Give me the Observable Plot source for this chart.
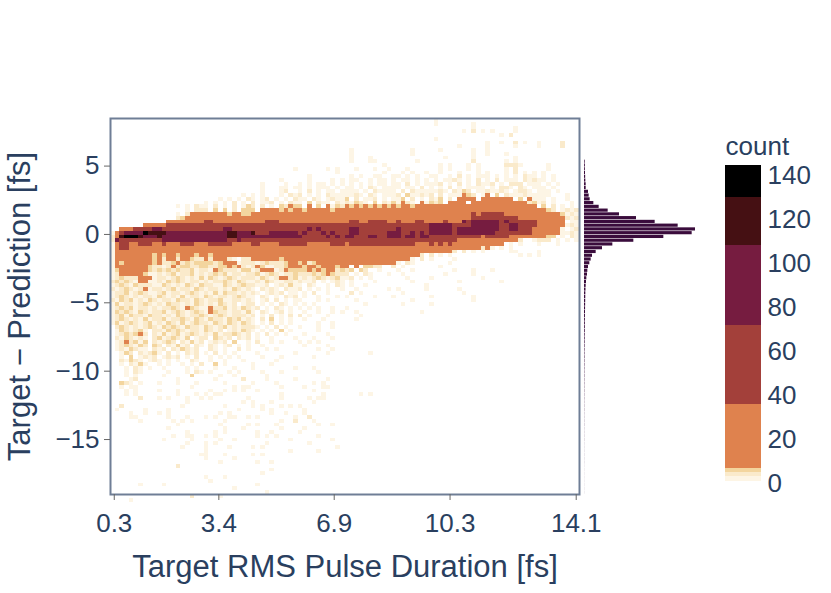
<!DOCTYPE html>
<html><head><meta charset="utf-8">
<script src="https://cdn.jsdelivr.net/npm/d3@7"></script>
<script src="https://cdn.jsdelivr.net/npm/@observablehq/plot@0.6"></script>
<style>html,body{margin:0;background:#fff}#c{position:relative;width:831px;height:593px;overflow:hidden}</style>
</head><body><div id="c"></div>
<script>
// Heat-map cell levels: one row per y bin (top to bottom), 10 columns per group, "_" = empty group.
const heatRows = [
"_ _ _ _ _ _ .........1",
"_ _ _ _ _ _ .........1 .......1..",
"_ _ _ _ _ _ _ .......1.. ......1...",
"_ _ _ _ _ _ _ .....1.2.1 .1....1...",
"_ _ _ _ _ _ _ _ ...1.2....",
"_ _ _ _ _ _ .........1",
"_ _ _ _ _ _ _ _ 1..1..2.1. .1....2...",
"_ _ _ _ _ _ _ ....1..... 1.....1... .1....2...",
"_ _ _ _ _ .1........ ....1..... 1......1.. 1.........",
"_ _ _ _ _ .1........ ....1..... .......1.. 1...1.....",
"_ _ _ _ _ .1...1.... _ .1.....1.. ......1...",
"_ _ _ _ _ .1...11... .....1.... .......2.. ....1.1...",
"_ _ _ _ _ ........1. _ 1.1...1.1. ....2221.. ...1......",
"_ _ _ .........1 ......1.1. ..1...1..1 ...1...... 1.1...1.1. ....1.2... ...1......",
"_ _ _ _ ........1. ........1. ..1.1..1.. 1...1...1. 1...1.2.1. 1.1.......",
"_ _ _ _ ..1....... .1.1..11.. 11.1.1..11 ..1.2.1.11 1.1.1.1.21 1.1.1.....",
"_ _ _ ......1... ..1....1.1 .11..1.11. 1.11.1.1.1 .1121.1.2. 1.2.111.21 211.1.....",
"_ _ _ ..1....1.. 1.1.11.1.1 .1.1.1.11. 11.2.1.111 2.1.2.1.21 12.1.222.1 11.1.1....",
"_ _ _ ..1...11.1 1.1.111.1. 11.1.21.11 11.11.2.1. 1.2.1.1111 .1.221.21. 111.1.....",
"_ _ _ ..1...12.. 1.2.1.11.1 111.1.2111 1.2.211111 21.2132.11 21121.1221 .111.1....",
"_ _ ........1. 1.1...1.21 2.1.1.2111 1121.21.11 12.311212. 2.111432.1 4.3.211121 1111...1..",
"_ _ ...1.1.1.2 1.12.1.1.2 11.21.1211 3.2.112.1. 113.2.1.21 3.2.4444.4 444444.3.4 111.1..1..",
"_ _ 1.1.1.2.1. 2.112.1.21 1.3.211.21 21321.3.21 31421.4132 3.4444.444 4444444442 312.1...1.",
"_ ....1.1.21 1.2.1.2.13 2.2.1.3243 3.4.3.4132 4343434343 4344344444 4444444444 4444444444 4.3.2.1.1.",
"_ ......1.22 2.3.3.2.33 3.44443434 4344444344 4444444444 4444444444 4444444444 4444444444 44432.1212",
"_ ....1.2444 4444434433 4444444444 4444444444 4444444444 4444444444 4444444545 5555444444 4444443121",
"_ ....234444 4444444444 4444444444 4444444444 4444444444 4444444444 4444444555 5555555444 4444444212",
"_ ..44444444 5544444444 4445554444 4444444444 4554455554 4544455444 4544465666 6665655555 5444444.11",
".......444 4455555555 5555555555 5555555555 5555555555 5555555555 5555555566 6665555666 6665566555 5444444121",
"..44455556 6555555555 5555665555 5555555555 5565655555 5665555555 5655555566 6665666666 6665566555 4444441.12",
"1456666877 7766666666 6666677666 7555666666 5655565655 5665555556 6655656566 6665666666 6655555555 4444441121",
"2478887666 7666666666 6666677666 6666666666 6555556565 6655566556 6656656655 5555555554 5555544444 44433.1.21",
"2655555555 5666666666 6666655655 5555555555 5555555555 5555555555 5555555555 5555444444 44444442.. 1222.1.1.1",
"1455445554 4544455544 4555554444 5544445555 5544444555 4555555555 5555544454 5454444444 4444.1.1.. .1...1....",
"1455444444 4444444444 4444444444 4444444444 4444444444 4444444444 4444444444 4444444442 41.1.1....",
"1444444444 4444444444 4444444444 4444444444 4444444444 4444444444 4444444444 4442.2.1.1 .....11... .1........",
"1444444443 4344344434 4344444444 4444444444 4444444444 4444444444 4444442.2. 1.1....... .......1.1 .1........",
"1444444443 4244244322 4244421.22 4444443444 4444444444 4444444444 44441.2.1. ...1...... ..........",
"1434444443 4223423233 3323444122 2123222344 3423444444 4444444444 41.21..... ..1.......",
"1444444432 2124233223 3223343421 2431122344 4344344434 4.4.3322.. 2.1....... 1.........",
"1344444432 3232322312 2143222133 1244412433 3343434423 23.32..1.. .1..1..... ...1...1.. .1........",
"1244444311 2123122312 1232312212 2312321223 2223234322 2.1.21...1 ..1....... .1.....1..",
"1232224441 2212321213 1321232122 2132124423 1212321231 12.1.1.... ...1....1. .........1",
"2323214411 2132321221 2122321321 1213211221 2112.1.121 .1....1... ....1..... ....1..... ...1......",
"1232132221 1321213213 2211321232 2112.12131 1.21..1.21 .1..1..... .......1.. ..........",
"2123212412 2123122132 1221213212 1.2121.211 2.1.1.1..1 ..1......1 .1.....1.. ....1.....",
"1223123211 2312212321 2131322121 21.1212.11 .1.2..1... .2.1...... ..1....... .....1....",
"1232121221 3212131221 3212212321 1.21.1.212 .1..1...1. 1.....1... 1.......1. .......1..",
"2132312132 1221322132 1223112212 1.12.2.1.1 1...1.1... ..1....... ....1..... .......1.. ..........",
"1312212321 2132212132 1213212.12 2.1.1.21.1 .1.1...... ....1..... ..1.....1.",
"1232312212 1223214321 1422312132 12.1.21.1. 1.1.1..1.. 1.........",
"1323213212 2312321232 1432212213 1.21.12.1. .1..1..1.1 ..1....... ......1...",
"1231322132 2121321223 2123212221 2.1.2.1.2. 2.1...1... ...1......",
"1232121312 2312232132 1322132312 1.2.3.1.1. .1...1.... ..1.......",
"1312321231 2132131232 2132132132 1.1.2.1.1. ....1..1.. ..........",
".232121232 1323213221 3212312122 21.1.2.1.. 1...1..1..",
".1321231.2 2132321221 3212.12132 1.1.1.3.1. ....1.....",
".1232342.2 1312312321 2131223212 .1.2.1.1.. .1....1...",
".2132121.2 3123213.12 2.3212.212 .1..1....1 ...1...1..",
".1242313.2 1232.21312 .1212.3..1 .2..1.1... 1.1.1.....",
".1232132.3 2.21312.21 .21.12.1.1 ..1....... .1....1...",
".1213211.2 12.213212. .21.1..2.1 ...1.1.... ....1..1..",
"..132.2123 1.2.1.212. 1.2.1.1... .1.......1 ......1... .....1....",
"..1.3.1212 .1212.1.2. .1.1.1.1.. ..1...1... ...1......",
"..21321.12 1.1.1..21. .1..1...1. .....1....",
"..1.2131.. 1.1..1.1.2 ..3.1..... 1...1.....",
"...1.21.1. .1....1.1. ..1...1... 1........1 ...1......",
"...1.21... ..1...1.21 .1...1.1.. ..1...1... ....1.....",
"...1.1.... .1.....3.. ...1..1... ...1......",
"....12.... ....1..... ..1.....2. ...1.....1 ......1...",
"..321.1... 1...1...1. ....1..... 1....1.... ...1.1....",
"..1.11.... .......1.. ......1.11 ......1... .1...11...",
"...1.1.... 1...1..... .1..1.1.1. .1........ ...1......",
"...1.1.... ....1...1. 1.11...... ......1... .....1.... ...1.1....",
"......2... 1.1...1..1 .1.......1 ......1... ..1.11..",
"_ ......1... ........1. 1...1..... ...1......",
"..2....... .....1.... ....1..... 1.1...1.1. 1.........",
".1.....1.. ..1....... .......1.. ..1.1..... .1........",
"....1..1.. 1.1....... ...1.1.... ....1..1.. .1........",
"....11.... ..1...1... 1.1..11..1 .1.......1 ..2.......",
"......1... ...1.1.1.. ....1..... ......1..2 ...1......",
"_ ....1..... ...1.....1 .1...1.... ....1..1..",
"_ ..1....... ....1...1. ......1... .1........",
"_ ......1... ..1.1..... .1..1..... 1.........",
"_ ...1..11.. 1.1....... .1.1.1.... ....1.....",
"_ .1.....1.. ...1..1... ........1. .......1..",
"_ ......1... 1.1....... ...1...... ..1.......",
"_ .....1.... 1....1.... 1.1....... ........1.",
"_ _ 1......... ........1. ....1.....",
"_ .........1 1...1..... 1.1.......",
"_ _ 1.....1... ..........",
"_ _ ...1...... .1..1.....",
"_ ....2..... ..........",
"_ _ _ ....1.....",
"_ _ _ ..1.......",
"_ _ 1...1.....",
"_ _ .1........",
"......1... .1........ _ .1........",
"_ _ ......1...",
"_ _ _ ...1....",
"_ .......2.. ...1......",
"....1....."
];
const levelCounts = [0, 2, 4, 6, 20, 50, 90, 120, 140];
const colorThresholds = [1, 3, 5, 7, 36, 72, 108, 130];
const colorRange = ["#ffffff", "#fdf5e5", "#faeacb", "#f3d59e", "#df824e", "#a3403a", "#761c40", "#451013", "#000000"];

const xTickBins = [0.8, 23.1, 47.7, 72.4, 99.3];
const xTickLabels = ["0.3", "3.4", "6.9", "10.3", "14.1"];
const yTicks = [5, 0, -5, -10, -15];
const yTop = 8.48, yBottom = -19.02, binCount = 100;
const binHeight = (yTop - yBottom) / binCount;

// Marginal histogram: y bin index and count
const histBins = d3.range(11, 100);
const histCounts = [20,25,25,30,35,40,50,50,120,140,170,280,440,710,1050,1560,2120,2810,3330,3230,2380,1480,850,540,350,240,200,160,120,100,90,70,60,50,45,40,38,36,34,32,30,28,26,25,24,22,20,20,18,16,15,14,14,12,12,11,10,10,9,9,8,8,7,7,6,6,6,5,5,5,5,4,4,4,4,3,3,3,3,3,3,2,2,2,2,2,2,2,2];

const ink = "#2a3f5f", font = "'Liberation Sans', Arial, sans-serif";
const cells = heatRows.flatMap((row, r) =>
  row.split(/\s+/).map(g => g === "_" ? ".........." : g).join("").split("").slice(0, binCount)
    .map((ch, c) => ({r, c, count: levelCounts[ch === "." ? 0 : +ch]}))
    .filter(d => d.count > 0));
const yEdge = r => yTop - r * binHeight;
const box = document.getElementById("c");
const place = (svg, left) => {
  svg.style.position = "absolute"; svg.style.left = left + "px"; svg.style.top = "0px";
  svg.style.background = "transparent"; box.appendChild(svg);
};

place(Plot.plot({
  width: 640, height: 593, marginLeft: 110, marginRight: 61, marginTop: 118, marginBottom: 99,
  style: {fontFamily: font, color: ink},
  x: {domain: [0, binCount], axis: null},
  y: {domain: [yBottom, yTop], axis: null},
  color: {type: "threshold", domain: colorThresholds, range: colorRange},
  marks: [
    Plot.rect(cells, {x1: d => d.c, x2: d => d.c + 1, y1: d => yEdge(d.r + 1), y2: d => yEdge(d.r), fill: "count", shapeRendering: "crispEdges"}),
    Plot.frame({stroke: "#6f7e96", strokeWidth: 2}),
    Plot.axisX(xTickBins, {tickFormat: d => xTickLabels[xTickBins.indexOf(d)], fontSize: 26, tickSize: 6, tickPadding: 13, stroke: "#666", fill: ink, label: null}),
    Plot.axisY(yTicks, {fontSize: 26, tickSize: 6, tickPadding: 5, stroke: "#666", fill: ink, label: null}),
    Plot.text(["Target RMS Pulse Duration [fs]"], {frameAnchor: "bottom", dx: 0, dy: 82, fontSize: 31, fill: ink}),
    Plot.text(["Target \u2212 Prediction [fs]"], {frameAnchor: "left", dx: -90, rotate: -90, textAnchor: "middle", fontSize: 31, fill: ink})
  ]
}), 0);

place(Plot.plot({
  width: 125, height: 593, marginLeft: 5, marginRight: 9, marginTop: 118, marginBottom: 99,
  x: {domain: [0, d3.max(histCounts)], axis: null},
  y: {domain: [yBottom, yTop], axis: null},
  marks: [
    Plot.rectX(histBins, {x1: 0, x2: (d, i) => histCounts[i], y1: d => yEdge(d + 1), y2: d => yEdge(d), fill: "#3a0c3c", insetTop: 0.3, insetBottom: 0.3})
  ]
}), 579);

const bandEdges = [0, ...colorThresholds, 144.6];
place(Plot.plot({
  width: 110, height: 593, marginLeft: 10, marginRight: 64, marginTop: 165, marginBottom: 110,
  style: {fontFamily: font, color: ink},
  x: {domain: [0, 1], axis: null},
  y: {domain: [0, 144.6], axis: null},
  marks: [
    Plot.rect(colorRange, {x1: 0, x2: 1, y1: (d, i) => bandEdges[i], y2: (d, i) => bandEdges[i + 1], fill: d => d, shapeRendering: "crispEdges"}),
    Plot.axisY([0, 20, 40, 60, 80, 100, 120, 140], {anchor: "right", tickSize: 0, tickPadding: 6, fontSize: 26, fill: ink, label: null}),
    Plot.text(["count"], {frameAnchor: "top-left", dy: -29, dx: 0, fontSize: 26, fill: ink})
  ]
}), 715);
</script></body></html>
